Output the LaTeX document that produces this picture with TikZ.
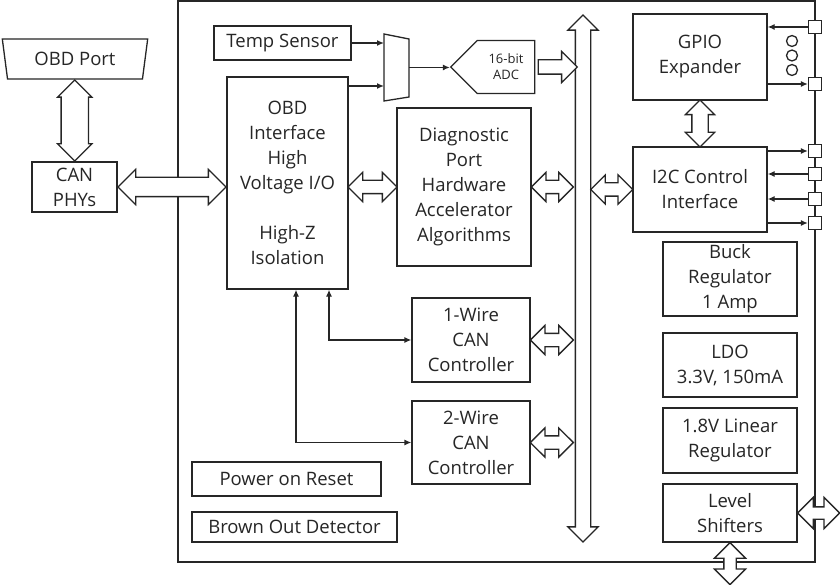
\documentclass[tikz,border=0pt]{standalone}
\usepackage{fontspec}
\setmainfont{Open Sans}
\usetikzlibrary{shapes.arrows,shapes.geometric,shapes.symbols,calc,arrows.meta}

\tikzset{
  blk/.style={draw, fill=white, align=center, inner sep=0pt},
  pin/.style={draw, fill=white, minimum size=13pt, inner sep=0pt},
  fat/.style={double arrow, draw, fill=white, inner xsep=0pt, inner ysep=6pt, double arrow head extend=8pt},
  sig/.style={-{Latex[length=7pt,width=6pt]}},
  sigsig/.style={{Latex[length=7pt,width=6pt]}-{Latex[length=7pt,width=6pt]}},
}

\begin{document}
\begin{tikzpicture}[x=1pt, y=-1pt, line width=1.3pt, color=black!85, font=\fontsize{18.5}{25}\selectfont]
  \useasboundingbox (0,0) rectangle (840,585);
  % chip outline, right edge is the pin rail
  \draw (178,1) rectangle (815,562);

  % outside the chip
  \node[trapezium, draw, fill=white, trapezium angle=77, trapezium stretches=true, shape border rotate=180, minimum width=146pt, minimum height=40pt, inner sep=0pt] (port) at (75,59) {OBD Port};
  \node[blk, minimum width=85pt, minimum height=50pt] (phy) at (74.5,187) {CAN\\PHYs};

  % left column
  \node[blk, minimum width=137pt, minimum height=34pt] (temp) at (282.5,43) {Temp Sensor};
  \node[blk, minimum width=121pt, minimum height=212pt] (obd) at (287.5,183) {OBD\\Interface\\High\\Voltage I/O\\[25pt]High-Z\\Isolation};
  \node[blk, minimum width=189pt, minimum height=34pt] (por) at (286.5,479) {Power on Reset};
  \node[blk, minimum width=205pt, minimum height=30pt] (bod) at (294.5,527) {Brown Out Detector};

  % mux and adc
  \draw[fill=white] (384,34) -- (409,39) -- (409,97) -- (384,101) -- cycle;
  \coordinate (muxa) at (384,43);
  \coordinate (muxb) at (384,86);
  \coordinate (muxo) at (409,67.5);
  \node[signal, signal to=west, draw, fill=white, minimum width=84pt, minimum height=53pt, inner sep=0pt, align=center, font=\fontsize{13}{16}\selectfont] (adc) at (506,67) {16-bit\\ADC};

  % middle column
  \node[blk, minimum width=134pt, minimum height=158pt] (diag) at (464,187) {Diagnostic\\Port\\Hardware\\Accelerator\\Algorithms};
  \node[blk, minimum width=118pt, minimum height=84pt] (w1) at (471,340) {1-Wire\\CAN\\Controller};
  \node[blk, minimum width=118pt, minimum height=83pt] (w2) at (471,442.5) {2-Wire\\CAN\\Controller};

  % internal bus
  \node[fat, rotate=90, minimum height=527pt, inner ysep=7pt, double arrow head extend=7.5pt] (bus) at (583,278.5) {};
  \coordinate (busw) at ([xshift=-10pt]bus.center);
  \coordinate (buse) at ([xshift=8pt]bus.center);

  % right column
  \node[blk, minimum width=134pt, minimum height=86pt] (gpio) at (700,57) {GPIO\\Expander};
  \node[blk, minimum width=134pt, minimum height=85pt] (i2c) at (700,189.5) {I2C Control\\Interface};
  \node[blk, minimum width=134pt, minimum height=74pt] (buck) at (730,279) {Buck\\Regulator\\1 Amp};
  \node[blk, minimum width=134pt, minimum height=64pt] (ldo) at (730,365) {LDO\\3.3V, 150mA};
  \node[blk, minimum width=134pt, minimum height=65pt] (lin) at (730,440.5) {1.8V Linear\\Regulator};
  \node[blk, minimum width=134pt, minimum height=58pt] (lvl) at (730,513) {Level\\Shifters};

  % pins on the rail
  \foreach \n/\y in {g1/27, g2/84, c1/151, c2/174, c3/199, c4/223}
    \node[pin] (\n) at (815,\y) {};
  \foreach \y in {41,55.5,70}
    \draw (792,\y) circle[radius=5.5pt];

  % block arrows
  \node[fat, rotate=90, minimum height=81pt, inner ysep=13pt, double arrow head extend=3.5pt] (a1) at ($(port.south)!0.5!(phy.north)$) {};
  \node[fat, minimum height=108pt, inner ysep=9pt] (a2) at ($(phy.east)!0.5!(obd.west |- phy.east)$) {};
  \node[fat, minimum height=49pt] (a3) at ($(obd.east |- diag.west)!0.5!(diag.west)$) {};
  \node[fat, minimum height=42pt] (a4) at ($(diag.east)!0.5!(busw |- diag.east)$) {};
  \node[fat, minimum height=42pt] (a5) at ($(buse |- i2c.west)!0.5!(i2c.west)$) {};
  \node[fat, minimum height=43pt] (a6) at ($(w1.east)!0.5!(busw |- w1.east)$) {};
  \node[fat, minimum height=43pt] (a7) at ($(w2.east)!0.5!(busw |- w2.east)$) {};
  \node[fat, rotate=90, minimum height=47pt, inner ysep=7.5pt, double arrow head extend=6.5pt] (a8) at ($(gpio.south)!0.5!(i2c.north)$) {};
  \node[fat, minimum height=42pt, inner ysep=5.5pt, double arrow head extend=9.5pt] (a9) at ([xshift=21pt]lvl.east) {};
  \node[fat, rotate=90, minimum height=42pt, inner ysep=5.5pt, double arrow head extend=9.5pt] (a10) at ([yshift=-21pt]lvl.south) {};
  \node[single arrow, draw, fill=white, inner xsep=0pt, inner ysep=6.5pt, single arrow head extend=8.5pt, minimum height=39pt] (a11) at ($(adc.east)!0.5!(busw |- adc.east)$) {};

  % signal lines
  \draw[sig] (temp.east) -- (muxa);
  \draw[sig] (muxb -| obd.east) -- (muxb);
  \draw[sig] (muxo) -- (muxo -| adc.west);
  \draw[sig] (g1.west) -- (g1.west -| gpio.east);
  \draw[sig] (g2.west -| gpio.east) -- (g2.west);
  \draw[sig] (c1.west -| i2c.east) -- (c1.west);
  \draw[sig] (c2.west) -- (c2.west -| i2c.east);
  \draw[sig] (c3.west) -- (c3.west -| i2c.east);
  \draw[sig] (c4.west -| i2c.east) -- (c4.west);
  \draw[sigsig] ([xshift=41.5pt]obd.south) |- (w1.west);
  \draw[sigsig] ([xshift=8.5pt]obd.south) |- (w2.west);
\end{tikzpicture}
\end{document}
